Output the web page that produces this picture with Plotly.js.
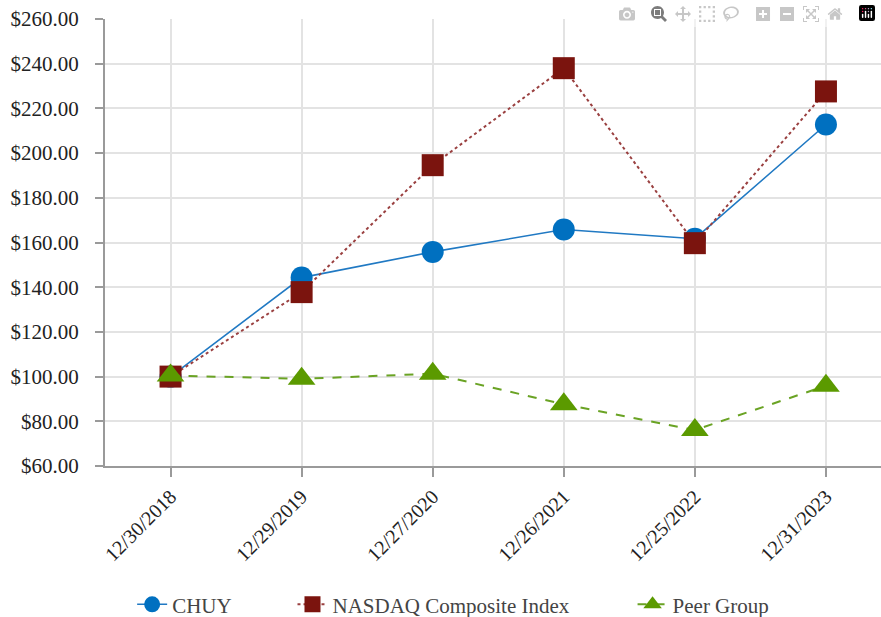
<!DOCTYPE html>
<html>
<head>
<meta charset="utf-8">
<script src="https://cdn.plot.ly/plotly-3.0.1.min.js"></script>
</head>
<body style="margin:0">
<div id="chart" style="width:881px;height:617px"></div>
<script>
const dates = ["12/30/2018", "12/29/2019", "12/27/2020", "12/26/2021", "12/25/2022", "12/31/2023"];
const chuy = [100.0, 144.3, 155.8, 165.8, 161.7, 212.8];
const nasdaq = [100.0, 137.8, 194.6, 238.0, 159.7, 227.6];
const peer = [100.5, 99.0, 101.3, 87.6, 76.1, 95.9];
const yTicks = [60, 80, 100, 120, 140, 160, 180, 200, 220, 240, 260];
const yTickText = yTicks.map(v => "$" + v.toFixed(2));

const traces = [
  {x: dates, y: chuy, name: "CHUY", type: "scatter", mode: "lines+markers",
   line: {color: "#2079C3", width: 1.6, dash: "solid"},
   marker: {symbol: "circle", size: 22, color: "#0070C0"}, legend: "legend"},
  {x: dates, y: nasdaq, name: "NASDAQ Composite Index", type: "scatter", mode: "lines+markers",
   line: {color: "#9A4040", width: 2, dash: "dot"},
   marker: {symbol: "square", size: 22, color: "#7B140E"}, legend: "legend2"},
  {x: dates, y: peer, name: "Peer Group", type: "scatter", mode: "lines+markers",
   line: {color: "#6AA324", width: 2, dash: "dash"},
   marker: {symbol: "triangle-up", size: 24, color: "#5B9A00"}, legend: "legend3"}
];

const legBase = {orientation: "h", xref: "container", yref: "container", y: 0.02, yanchor: "middle",
  xanchor: "left", font: {size: 21}, bgcolor: "rgba(0,0,0,0)", borderwidth: 0};

const layout = {
  width: 881, height: 617,
  margin: {l: 105, r: 0, t: 19, b: 151},
  font: {family: "Liberation Serif", size: 20},
  xaxis: {
    type: "category", range: [-0.5, 5.42],
    showgrid: true, gridcolor: "#e3e3e3", gridwidth: 1.5,
    showline: true, linecolor: "#9a9a9a", linewidth: 2,
    ticks: "outside", ticklen: 9, tickcolor: "#9a9a9a", tickwidth: 1.5,
    tickangle: -45, tickfont: {size: 20, color: "#222"},
    zeroline: false
  },
  yaxis: {
    range: [60, 260], tickvals: yTicks, ticktext: yTickText,
    showgrid: true, gridcolor: "#e3e3e3", gridwidth: 1.5,
    showline: true, linecolor: "#9a9a9a", linewidth: 2,
    ticks: "outside", ticklen: 8, tickcolor: "#9a9a9a", tickwidth: 1.5,
    ticklabelstandoff: 12,
    tickfont: {size: 21, color: "#222"},
    zeroline: false
  },
  legend: Object.assign({}, legBase, {x: 0.15}),
  legend2: Object.assign({}, legBase, {x: 0.332}),
  legend3: Object.assign({}, legBase, {x: 0.718}),
  showlegend: true
};

Plotly.newPlot("chart", traces, layout);
</script>
</body>
</html>
